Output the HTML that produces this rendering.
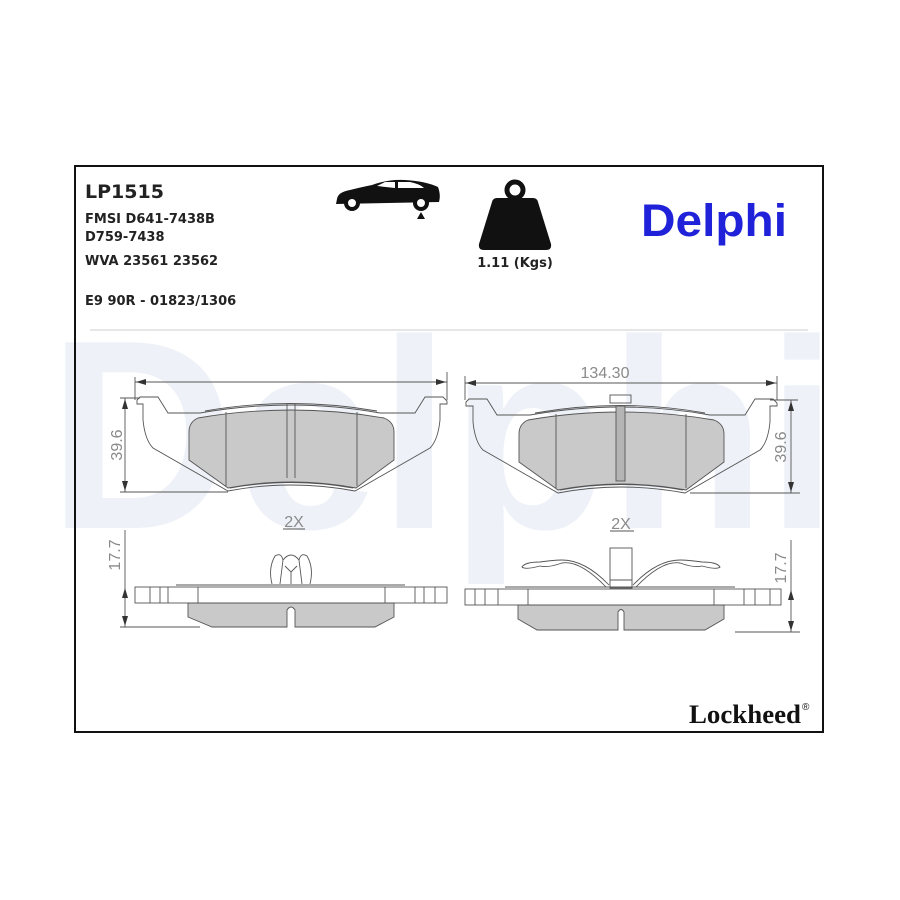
<!DOCTYPE html>
<html><head><meta charset="utf-8"><style>
html,body{margin:0;padding:0;background:#fff;}
svg{display:block;}
</style></head><body>
<svg width="900" height="900" viewBox="0 0 900 900" xmlns="http://www.w3.org/2000/svg">
<rect width="900" height="900" fill="#fff"/>
<!-- watermark -->
<text x="48" y="528" font-family="Liberation Sans, sans-serif" font-weight="bold" font-size="270" fill="#eef2f8" textLength="790" lengthAdjust="spacingAndGlyphs">Delphi</text>
<!-- frame -->
<rect x="75" y="166" width="748" height="566" fill="none" stroke="#111" stroke-width="2"/>
<!-- header text -->
<g font-family="DejaVu Sans, Liberation Sans, sans-serif" font-weight="bold" fill="#222">
<text x="85" y="198" font-size="19">LP1515</text>
<text x="85" y="223" font-size="13">FMSI D641-7438B</text>
<text x="85" y="241" font-size="13">D759-7438</text>
<text x="85" y="265" font-size="13">WVA 23561 23562</text>
<text x="85" y="305" font-size="13">E9 90R - 01823/1306</text>
<text x="515" y="267" font-size="13" text-anchor="middle">1.11 (Kgs)</text>
</g>
<!-- car icon -->
<path d="M337,199 Q338,192 350,190 Q362,187 372,185 Q388,179 405,180 Q425,181 438,187 Q441,195 439,202 L336,204 Z" fill="#111"/>
<path d="M377,186 L385,182 L395,182 L395,188 Z M398,182 L410,182 Q420,184 424,188 L398,188 Z" fill="#fff"/>
<circle cx="352" cy="203" r="8" fill="#111"/><circle cx="352" cy="203" r="4" fill="#fff"/>
<circle cx="421" cy="203" r="8" fill="#111"/><circle cx="421" cy="203" r="4" fill="#fff"/>
<path d="M417,219 L421,212 L425,219 Z" fill="#111"/>
<!-- weight -->
<circle cx="515" cy="190" r="8" fill="none" stroke="#111" stroke-width="5"/>
<path d="M497,198 L533,198 Q537,198 538,202 L551,244 Q552,250 546,250 L484,250 Q478,250 479,244 L492,202 Q493,198 497,198 Z" fill="#111"/>
<!-- Delphi logo -->
<text x="641" y="236" font-family="Liberation Sans, sans-serif" font-weight="bold" font-size="45" fill="#1f22d8" textLength="146" lengthAdjust="spacingAndGlyphs">Delphi</text>
<!-- separator -->
<line x1="90" y1="330" x2="808" y2="330" stroke="#ccc" stroke-width="1"/>

<g fill="none" stroke="#555" stroke-width="0.9">
<!-- LEFT PAD top view -->
<line x1="135" y1="382" x2="447" y2="382"/>
<line x1="135" y1="377" x2="135" y2="400"/><line x1="447" y1="372" x2="447" y2="400"/>
<path d="M137,400 L140,397 L158,397 L168,413 L200,413 Q291,397 380,413 L415,413 L425,397 L443,397 L447,401 L447,404 L440,404 L440,420 Q438,440 430,448 L355,491 Q291,479 228,491 L153,448 Q145,440 143,420 L143,404 L137,404 Z"/>
<path d="M205,411 Q291,396 377,411"/>
<path d="M230,488 Q291,477 353,488"/>
<path d="M198,418 Q291,402 384,418 Q394,422 394,432 L394,460 L356,488 Q291,476 228,488 L189,460 L189,432 Q189,422 198,418 Z" fill="#c9c9c9"/>
<line x1="226" y1="412" x2="226" y2="486"/><line x1="287" y1="404" x2="287" y2="478"/><line x1="295" y1="404" x2="295" y2="478"/><line x1="357" y1="412" x2="357" y2="486"/>
<line x1="125" y1="398" x2="125" y2="492"/>
<line x1="120" y1="398" x2="140" y2="398"/><line x1="120" y1="492" x2="228" y2="492"/>
<line x1="283" y1="529" x2="305" y2="529"/>
<!-- LEFT side view -->
<rect x="135" y="587" width="312" height="16"/>
<line x1="176" y1="585" x2="405" y2="585"/>
<line x1="150" y1="587" x2="150" y2="603"/><line x1="160" y1="587" x2="160" y2="603"/><line x1="168" y1="587" x2="168" y2="603"/><line x1="198" y1="587" x2="198" y2="603"/>
<line x1="385" y1="587" x2="385" y2="603"/><line x1="415" y1="587" x2="415" y2="603"/><line x1="424" y1="587" x2="424" y2="603"/><line x1="435" y1="587" x2="435" y2="603"/>
<path d="M188,603 L394,603 L394,617 L375,627 L295,627 L295,610 Q291,604 287,610 L287,627 L212,627 L188,617 Z" fill="#c9c9c9"/>
<path d="M272,584 Q268,568 275,556 Q281,552 283,560 L280,584 M310,584 Q314,568 307,556 Q301,552 299,560 L302,584 M283,560 Q291,550 299,560 M285,566 L291,572 L297,566 M291,572 L291,584"/>
<line x1="125" y1="530" x2="125" y2="627"/>
<line x1="120" y1="627" x2="200" y2="627"/>
<!-- RIGHT PAD top view -->
<line x1="465" y1="383" x2="777" y2="383"/>
<line x1="465" y1="376" x2="465" y2="400"/><line x1="777" y1="376" x2="777" y2="400"/>
<rect x="610" y="395" width="21" height="8"/>
<path d="M466,402 L469,399 L487,399 L497,415 L530,415 Q621,399 710,415 L745,415 L755,399 L773,399 L777,403 L777,406 L770,406 L770,422 Q768,442 760,450 L685,493 Q621,481 558,493 L483,450 Q475,442 473,422 L473,406 L466,406 Z"/>
<path d="M535,413 Q621,398 705,413"/>
<path d="M560,490 Q621,479 683,490"/>
<path d="M528,420 Q621,404 714,420 Q724,424 724,434 L724,462 L686,490 Q621,478 558,490 L519,462 L519,434 Q519,424 528,420 Z" fill="#c9c9c9"/>
<rect x="616" y="406" width="9" height="75" fill="#b5b5b5"/>
<line x1="556" y1="414" x2="556" y2="488"/><line x1="686" y1="414" x2="686" y2="488"/>
<line x1="791" y1="400" x2="791" y2="493"/>
<line x1="770" y1="400" x2="798" y2="400"/><line x1="690" y1="493" x2="800" y2="493"/>
<line x1="610" y1="531" x2="634" y2="531"/>
<!-- RIGHT side view -->
<rect x="465" y="589" width="316" height="16"/>
<line x1="505" y1="587" x2="735" y2="587"/>
<line x1="475" y1="589" x2="475" y2="605"/><line x1="485" y1="589" x2="485" y2="605"/><line x1="498" y1="589" x2="498" y2="605"/><line x1="528" y1="589" x2="528" y2="605"/>
<line x1="714" y1="589" x2="714" y2="605"/><line x1="744" y1="589" x2="744" y2="605"/><line x1="755" y1="589" x2="755" y2="605"/><line x1="770" y1="589" x2="770" y2="605"/>
<path d="M518,605 L724,605 L724,619 L705,630 L624,630 L624,612 Q621,607 618,612 L618,630 L537,630 L518,619 Z" fill="#c9c9c9"/>
<rect x="610" y="548" width="22" height="40"/>
<line x1="610" y1="580" x2="632" y2="580"/>
<path d="M606,587 Q580,560 562,563 Q548,568 540,566 Q525,570 522,567 Q525,562 540,562 Q555,560 562,560 Q585,560 609,585 M636,587 Q662,560 680,563 Q694,568 702,566 Q717,570 720,567 Q717,562 702,562 Q687,560 680,560 Q657,560 633,585"/>
<line x1="791" y1="540" x2="791" y2="632"/>
<line x1="735" y1="632" x2="800" y2="632"/>
</g>
<!-- arrows -->
<g fill="#333">
<path d="M136,382 L146,379 L146,385 Z"/><path d="M446,382 L436,379 L436,385 Z"/>
<path d="M466,383 L476,380 L476,386 Z"/><path d="M776,383 L766,380 L766,386 Z"/>
<path d="M125,399 L122,409 L128,409 Z"/><path d="M125,491 L122,481 L128,481 Z"/>
<path d="M791,401 L788,411 L794,411 Z"/><path d="M791,492 L788,482 L794,482 Z"/>
<path d="M125,588 L122,598 L128,598 Z"/><path d="M125,626 L122,616 L128,616 Z"/>
<path d="M791,590 L788,600 L794,600 Z"/><path d="M791,631 L788,621 L794,621 Z"/>
</g>
<!-- dimension text -->
<g font-family="Liberation Sans, sans-serif" font-size="16" fill="#8a8a8a">
<text x="605" y="378" text-anchor="middle">134.30</text>
<text x="294" y="527" text-anchor="middle">2X</text>
<text x="621" y="529" text-anchor="middle">2X</text>
<text transform="translate(122,445) rotate(-90)" text-anchor="middle">39.6</text>
<text transform="translate(786,447) rotate(-90)" text-anchor="middle">39.6</text>
<text transform="translate(120,555) rotate(-90)" text-anchor="middle">17.7</text>
<text transform="translate(786,568) rotate(-90)" text-anchor="middle">17.7</text>
</g>
<!-- Lockheed -->
<text x="689" y="723" font-family="Liberation Serif, serif" font-weight="bold" font-size="26" fill="#111" textLength="112" lengthAdjust="spacingAndGlyphs">Lockheed</text>
<text x="802" y="710" font-family="Liberation Sans, sans-serif" font-size="10" fill="#111">®</text>
</svg>
</body></html>
